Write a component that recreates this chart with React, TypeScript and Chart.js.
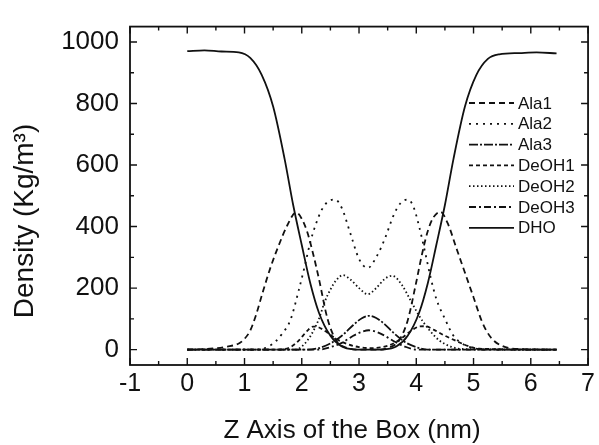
import React, { useEffect, useRef } from "react";
import { Chart, registerables } from "chart.js";

Chart.register(...registerables);

// ---- Data ----
const seriesNames = ["Ala1", "Ala2", "Ala3", "DeOH1", "DeOH2", "DeOH3", "DHO"];

const ala1Z = [0, 0.4, 0.7, 0.9, 1.0, 1.1, 1.2, 1.3, 1.45, 1.6, 1.75, 1.9, 2.0, 2.1, 2.2, 2.3, 2.45, 2.6, 2.8, 3.0, 3.3, 3.5, 3.7, 3.85, 4.0, 4.1, 4.2, 4.3, 4.42, 4.55, 4.7, 4.85, 5.0, 5.15, 5.3, 5.5, 5.8, 6.45];
const ala1Density = [0, 3, 10, 20, 35, 62, 112, 175, 265, 340, 405, 446, 425, 380, 310, 230, 100, 30, 5, 0, 0, 5, 30, 95, 220, 310, 385, 430, 448, 410, 330, 250, 170, 90, 40, 12, 2, 0];

const ala2Z = [0, 1.2, 1.4, 1.55, 1.65, 1.8, 1.95, 2.05, 2.15, 2.25, 2.35, 2.45, 2.58, 2.7, 2.85, 3.0, 3.15, 3.3, 3.45, 3.6, 3.72, 3.85, 3.95, 4.05, 4.15, 4.25, 4.35, 4.5, 4.65, 4.8, 5.0, 5.3, 6.45];
const ala2Density = [0, 0, 8, 28, 50, 95, 195, 270, 350, 410, 455, 480, 488, 460, 377, 295, 265, 300, 360, 435, 475, 488, 465, 400, 320, 235, 165, 100, 45, 20, 5, 0, 0];

const ala3Z = [0, 2.1, 2.3, 2.5, 2.7, 2.9, 3.05, 3.17, 3.3, 3.45, 3.6, 3.8, 4.0, 4.2, 6.45];
const ala3Density = [0, 0, 5, 20, 45, 80, 102, 110, 103, 82, 55, 25, 8, 0, 0];

const deoh1Z = [0, 1.6, 1.8, 1.95, 2.1, 2.2, 2.3, 2.45, 2.6, 2.8, 3.0, 3.2, 3.4, 3.6, 3.75, 3.9, 4.05, 4.15, 4.3, 4.5, 4.7, 4.9, 5.1, 6.45];
const deoh1Density = [0, 0, 8, 30, 62, 75, 72, 55, 35, 18, 8, 5, 8, 20, 38, 60, 75, 76, 65, 45, 28, 12, 3, 0];

const deoh2Z = [0, 1.9, 2.0, 2.1, 2.2, 2.3, 2.4, 2.5, 2.6, 2.72, 2.85, 3.0, 3.15, 3.3, 3.45, 3.58, 3.75, 3.9, 4.05, 4.2, 4.4, 4.6, 4.8, 6.45];
const deoh2Density = [0, 0, 10, 30, 60, 100, 155, 195, 225, 242, 228, 200, 180, 200, 230, 240, 210, 160, 110, 70, 30, 10, 2, 0];

const deoh3Z = [0, 2.3, 2.5, 2.7, 2.9, 3.05, 3.17, 3.3, 3.45, 3.6, 3.8, 4.0, 6.45];
const deoh3Density = [0, 0, 8, 22, 45, 58, 63, 58, 45, 28, 10, 0, 0];

const dhoZ = [0, 0.3, 0.6, 0.9, 1.1, 1.3, 1.5, 1.7, 1.85, 2.0, 2.15, 2.3, 2.5, 2.7, 2.9, 3.2, 3.45, 3.65, 3.85, 4.05, 4.2, 4.35, 4.5, 4.65, 4.85, 5.05, 5.25, 5.45, 5.8, 6.1, 6.45];
const dhoDensity = [970, 973, 969, 966, 948, 893, 790, 620, 470, 340, 215, 120, 45, 10, 1, 0, 1, 10, 45, 120, 215, 340, 470, 620, 790, 893, 945, 960, 964, 966, 963];

const xTickValues = [-1, 0, 1, 2, 3, 4, 5, 6, 7];
const yTickValues = [0, 200, 400, 600, 800, 1000];

const xTitle = "Z Axis of the Box (nm)";
const yTitle = "Density (Kg/m\u00B3)";

// ---- Styles ----
const dashes: number[][] = [
  [6, 4],
  [2, 5],
  [9, 2, 2, 2],
  [4, 3],
  [1.5, 2.5],
  [7, 3, 2, 3],
  [],
];

const FONT = "'Liberation Sans', Arial, Helvetica, sans-serif";

const pairs = (zs: number[], ds: number[]) => zs.map((z, i) => ({ x: z, y: ds[i] }));

const decorPlugin = {
  id: "decor",
  afterDraw(chart: any) {
    const { ctx, chartArea: a, scales } = chart;
    const xs = scales.x;
    const ys = scales.y;
    ctx.save();
    ctx.setLineDash([]);
    ctx.strokeStyle = "#111";
    ctx.lineWidth = 1.8;
    ctx.strokeRect(a.left, a.top, a.right - a.left, a.bottom - a.top);

    // tick marks (inward, all four sides)
    ctx.lineWidth = 1.4;
    ctx.beginPath();
    const major = 7, minor = 4;
    for (let i = 0; i < xTickValues.length; i++) {
      const v = xTickValues[i];
      const px = xs.getPixelForValue(v);
      ctx.moveTo(px, a.bottom); ctx.lineTo(px, a.bottom - major);
      ctx.moveTo(px, a.top); ctx.lineTo(px, a.top + major);
      if (i < xTickValues.length - 1) {
        const m = xs.getPixelForValue((v + xTickValues[i + 1]) / 2);
        ctx.moveTo(m, a.bottom); ctx.lineTo(m, a.bottom - minor);
        ctx.moveTo(m, a.top); ctx.lineTo(m, a.top + minor);
      }
    }
    for (let i = 0; i < yTickValues.length; i++) {
      const v = yTickValues[i];
      const py = ys.getPixelForValue(v);
      ctx.moveTo(a.left, py); ctx.lineTo(a.left + major, py);
      ctx.moveTo(a.right, py); ctx.lineTo(a.right - major, py);
      if (i < yTickValues.length - 1) {
        const m = ys.getPixelForValue((v + yTickValues[i + 1]) / 2);
        ctx.moveTo(a.left, m); ctx.lineTo(a.left + minor, m);
        ctx.moveTo(a.right, m); ctx.lineTo(a.right - minor, m);
      }
    }
    ctx.stroke();

    // axis titles
    ctx.fillStyle = "#111";
    ctx.font = `26px ${FONT}`;
    ctx.textAlign = "center";
    ctx.textBaseline = "middle";
    ctx.fillText(xTitle, 352, 431);
    ctx.save();
    ctx.translate(25, 221);
    ctx.rotate(-Math.PI / 2);
    ctx.font = `28px ${FONT}`;
    ctx.fillText(yTitle, 0, 0);
    ctx.restore();

    // legend
    ctx.font = `17px ${FONT}`;
    ctx.textAlign = "left";
    ctx.textBaseline = "middle";
    chart.data.datasets.forEach((ds: any, i: number) => {
      const y = 103 + i * 20.8;
      ctx.beginPath();
      ctx.lineWidth = 1.8;
      ctx.setLineDash(ds.borderDash || []);
      ctx.moveTo(469, y);
      ctx.lineTo(514, y);
      ctx.stroke();
      ctx.setLineDash([]);
      ctx.fillText(ds.label, 518, y + 1);
    });
    ctx.restore();
  },
};

export default function App() {
  const ref = useRef<HTMLCanvasElement | null>(null);

  useEffect(() => {
    const canvas = ref.current;
    if (!canvas) return;
    const allData = [
      pairs(ala1Z, ala1Density),
      pairs(ala2Z, ala2Density),
      pairs(ala3Z, ala3Density),
      pairs(deoh1Z, deoh1Density),
      pairs(deoh2Z, deoh2Density),
      pairs(deoh3Z, deoh3Density),
      pairs(dhoZ, dhoDensity),
    ];
    const chart = new Chart(canvas, {
      type: "line",
      data: {
        datasets: allData.map((d, i) => ({
          label: seriesNames[i],
          data: d,
          borderColor: "#111",
          borderWidth: 1.8,
          borderDash: dashes[i],
          pointRadius: 0,
          fill: false,
          cubicInterpolationMode: "monotone",
        })),
      },
      options: {
        responsive: false,
        animation: false,
        layout: { padding: { left: 0, right: 6, top: 14, bottom: 0 } },
        plugins: { legend: { display: false }, tooltip: { enabled: false } },
        scales: {
          x: {
            type: "linear",
            min: -1,
            max: 7,
            afterBuildTicks: (s: any) => { s.ticks = xTickValues.map((v) => ({ value: v })); },
            afterFit: (s: any) => { s.height = 80; },
            grid: { display: false, drawTicks: false },
            border: { display: false },
            ticks: { color: "#111", font: { family: FONT, size: 25 }, padding: 4, maxRotation: 0, autoSkip: false, callback: (v: any) => String(v) },
          },
          y: {
            type: "linear",
            min: -50,
            max: 1050,
            afterBuildTicks: (s: any) => { s.ticks = yTickValues.map((v) => ({ value: v })); },
            afterFit: (s: any) => { s.width = 130; },
            grid: { display: false, drawTicks: false },
            border: { display: false },
            ticks: { color: "#111", font: { family: FONT, size: 26 }, padding: 11, callback: (v: any) => String(v) },
          },
        },
      },
      plugins: [decorPlugin],
    } as any);
    return () => chart.destroy();
  }, []);

  return (
    <div style={{ position: "fixed", left: 0, top: 0, width: 599, height: 445, background: "#fff" }}>
      <canvas ref={ref} width={599} height={445} style={{ display: "block" }} />
    </div>
  );
}
